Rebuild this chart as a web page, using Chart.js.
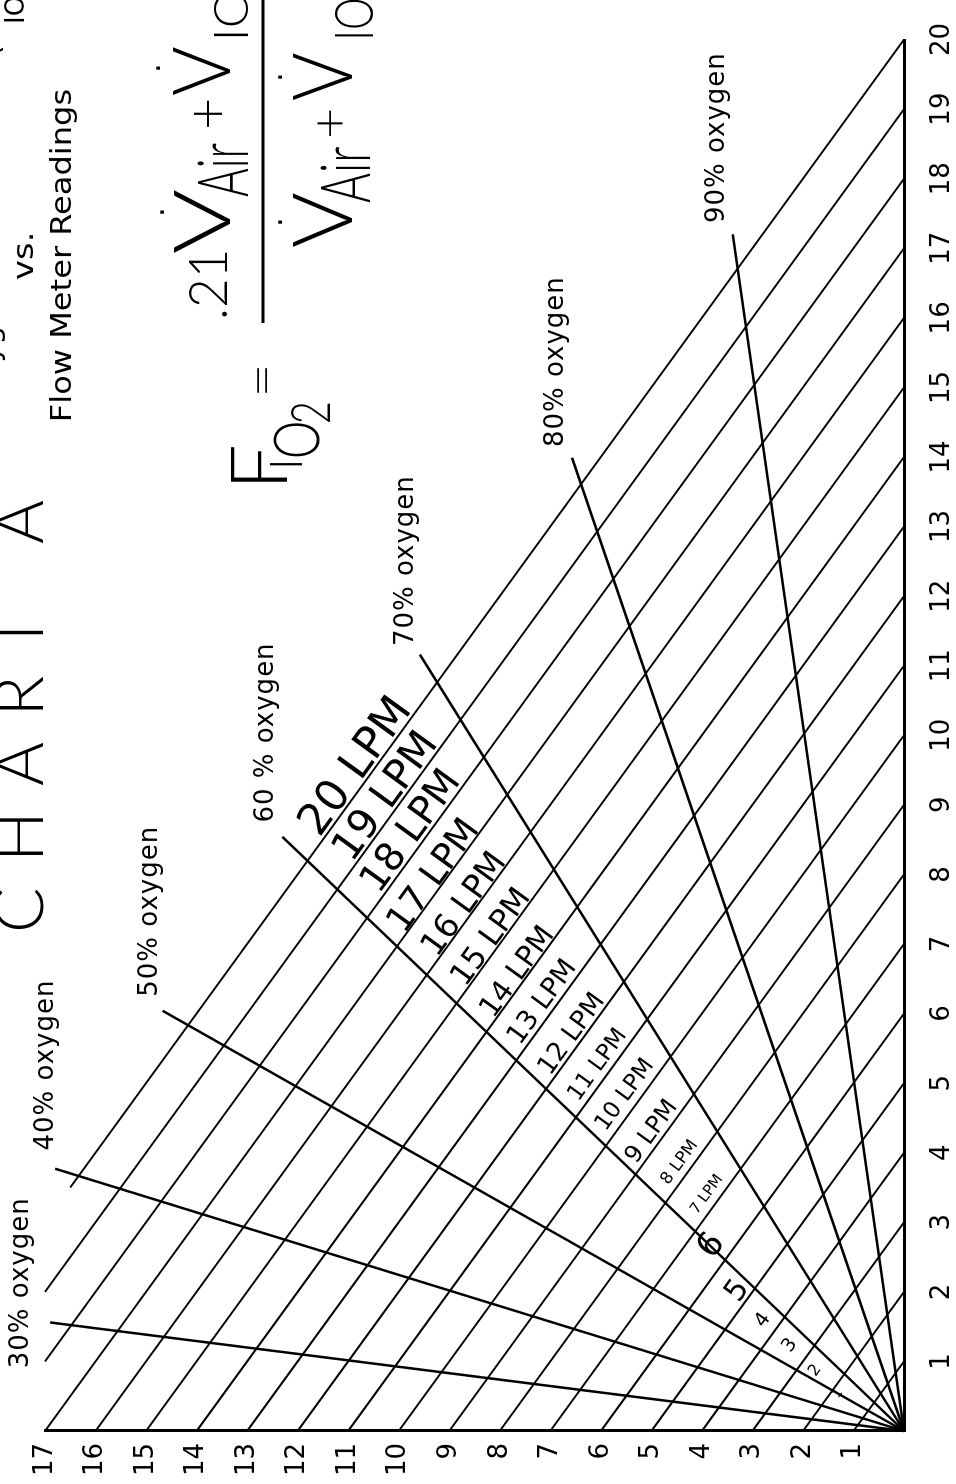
<!DOCTYPE html>
<html>
<head>
<meta charset="utf-8">
<title>Chart A</title>
<script src="https://cdn.jsdelivr.net/npm/chart.js@4.4.1/dist/chart.umd.min.js"></script>
<style>
  html, body { margin: 0; padding: 0; background: #fff; }
  body { width: 956px; height: 1484px; overflow: hidden; position: relative; }
  /* the chart is drawn upright and then turned on its side like the printed sheet */
  #wrap { position: absolute; left: 0; top: 0; width: 1484px; height: 956px;
          transform-origin: 0 0; transform: translate(0, 1484px) rotate(-90deg); }
</style>
</head>
<body>
<div id="wrap"><canvas id="chartA" width="1484" height="956"></canvas></div>
<script>
// flow meter ticks: oxygen along x, air along y (LPM)
const o2Ticks = [1, 2, 3, 4, 5, 6, 7, 8, 9, 10, 11, 12, 13, 14, 15, 16, 17, 18, 19, 20];
const airTicks = [1, 2, 3, 4, 5, 6, 7, 8, 9, 10, 11, 12, 13, 14, 15, 16, 17];

// total flow lines (air + oxygen = total), and the air reading where each one starts
const totalFlows = [1, 2, 3, 4, 5, 6, 7, 8, 9, 10, 11, 12, 13, 14, 15, 16, 17, 18, 19, 20];
const lineTopAir = [1, 2, 3, 4, 5, 6, 7, 8, 9, 10, 11, 12, 13, 14, 15, 16, 17, 17, 17, 16.5];

// oxygen concentration rays from the origin out to their labels
const oxygenLabels = ['30% oxygen', '40% oxygen', '50% oxygen', '60 % oxygen', '70% oxygen', '80% oxygen', '90% oxygen'];
const rayEndO2 = [1.56, 3.77, 6.04, 8.54, 11.16, 13.99, 17.2];
const rayEndAir = [16.9, 16.8, 14.67, 12.3, 9.58, 6.57, 3.39];
const oxygenLabelO2 = [2.13, 5.26, 7.47, 10.04, 12.51, 15.37, 18.59];
const oxygenLabelAir = [17.47, 16.97, 14.91, 12.63, 9.86, 6.89, 3.70];

// total flow labels, sitting just past their line
const flowLabels = ['20 LPM', '19 LPM', '18 LPM', '17 LPM', '16 LPM', '15 LPM', '14 LPM', '13 LPM', '12 LPM',
                    '11 LPM', '10 LPM', '9 LPM', '8 LPM', '7 LPM', '6', '5', '4', '3', '2', '1'];
const flowLabelO2 = [9.54, 9.11, 8.61, 7.97, 7.56, 7.09, 6.59, 6.16, 5.70, 5.26, 4.83, 4.30, 3.86, 3.40, 2.66, 2.01, 1.59, 1.23, 0.87, 0.54];
const flowLabelAir = [10.83, 10.24, 9.74, 9.29, 8.69, 8.16, 7.64, 7.15, 6.57, 6.06, 5.52, 4.99, 4.44, 3.90, 3.80, 3.29, 2.79, 2.26, 1.76, 1.31];
const flowLabelPx = [44, 41, 39, 36, 33, 31, 29, 27, 26, 23, 23, 24, 17, 15, 34, 30, 20, 19, 16, 13];

const line = (pts, w) => ({
  data: pts, showLine: true, borderColor: '#000', borderWidth: w,
  pointRadius: 0, tension: 0, clip: false
});

const datasets = [];
totalFlows.forEach((t, i) => {
  const a = lineTopAir[i];
  datasets.push(line([{ x: t - a, y: a }, { x: t, y: 0 }], 2));
});
rayEndO2.forEach((o, i) => {
  datasets.push(line([{ x: 0, y: 0 }, { x: o, y: rayEndAir[i] }], 2.5));
});

const LIGHT = '300';
const THIN_FONT = 'Lato, Inter, "DejaVu Sans", sans-serif';

// scale a piece of text so its ink fills the given box [left, right, top, bottom]
function fitText(ctx, text, box, family, weight) {
  const [u0, u1, v0, v1] = box;
  ctx.letterSpacing = '0px';
  ctx.textAlign = 'left';
  ctx.textBaseline = 'alphabetic';
  ctx.font = `${weight} 100px ${family}`;
  let m = ctx.measureText(text);
  const size = 100 * (v1 - v0) / (m.actualBoundingBoxAscent + m.actualBoundingBoxDescent);
  ctx.font = `${weight} ${size}px ${family}`;
  m = ctx.measureText(text);
  const sx = u1 == null ? 1 : (u1 - u0) / (m.actualBoundingBoxLeft + m.actualBoundingBoxRight);
  ctx.save();
  ctx.translate(u0, v1 - m.actualBoundingBoxDescent);
  ctx.scale(sx, 1);
  ctx.fillText(text, m.actualBoundingBoxLeft, 0);
  ctx.restore();
}

const textLayer = {
  id: 'textLayer',
  afterDatasetsDraw(chart) {
    const { ctx, scales: { x, y } } = chart;
    ctx.save();
    ctx.fillStyle = '#000';
    ctx.strokeStyle = '#000';

    // oxygen % labels at the ends of the rays
    ctx.font = '26px "DejaVu Sans"';
    ctx.letterSpacing = '1px';
    ctx.textAlign = 'center';
    ctx.textBaseline = 'middle';
    oxygenLabels.forEach((t, i) => {
      ctx.fillText(t, x.getPixelForValue(oxygenLabelO2[i]), y.getPixelForValue(oxygenLabelAir[i]));
    });

    // LPM labels run along the total flow lines
    ctx.letterSpacing = '0px';
    const ang = Math.atan2(y.getPixelForValue(0) - y.getPixelForValue(1), x.getPixelForValue(1) - x.getPixelForValue(0));
    flowLabels.forEach((t, i) => {
      ctx.save();
      ctx.translate(x.getPixelForValue(flowLabelO2[i]), y.getPixelForValue(flowLabelAir[i]));
      ctx.rotate(ang);
      ctx.font = `${flowLabelPx[i]}px "DejaVu Sans"`;
      ctx.fillText(t, 0, 0);
      ctx.restore();
    });

    // title block
    ctx.textAlign = 'left';
    ctx.textBaseline = 'alphabetic';
    ctx.font = `${LIGHT} 100px ${THIN_FONT}`;
    let m = ctx.measureText('CHART A');
    const titlePx = 100 * 49 / m.actualBoundingBoxAscent;
    ctx.font = `${LIGHT} ${titlePx}px ${THIN_FONT}`;
    m = ctx.measureText('CHART A');
    const inkW = m.actualBoundingBoxLeft + m.actualBoundingBoxRight;
    ctx.letterSpacing = ((430 - inkW) / 6) + 'px';
    ctx.fillText('CHART A', 554 + m.actualBoundingBoxLeft, 43);

    ctx.letterSpacing = '0px';
    ctx.font = '30px "DejaVu Sans"';
    const lead = 'Oxygen Concentration ';
    const leadX = 1427 - ctx.measureText(lead).width;
    ctx.fillText(lead + '(F', leadX, -1);
    const subX = leadX + ctx.measureText(lead + '(F').width + 4;
    ctx.font = '26px "DejaVu Sans"';
    ctx.fillText('IO2)', subX, 24);

    fitText(ctx, 'vs.', [1204, 1249, 17, 33], '"DejaVu Sans"', '400');
    fitText(ctx, 'Flow Meter Readings', [1064, 1394, 49, 77], '"DejaVu Sans"', '400');

    // F_IO2 = (.21 V_Air + V_O2) / (V_Air + V_O2)
    const pieces = [
      ['F', [1002, 1037, 230, 287]],
      ['I', [1018, null, 270, 302]],
      ['O', [1027, 1061, 273, 320]],
      ['2', [1062, 1081, 290, 330]],
      ['=', [1091, 1116, 257, 267]],
      ['.21', [1167, 1232, 188, 227]],
      ['V', [1231, 1294, 173, 230]],
      ['Air', [1287, 1341, 197, 248]],
      ['+', [1357, 1384, 193, 222]],
      ['V', [1389, 1437, 172, 230]],
      ['IO', [1447, 1492, 213, 248]],
      ['V', [1237, 1291, 293, 352]],
      ['Air', [1281, 1337, 320, 370]],
      ['+', [1347, 1374, 317, 343]],
      ['V', [1384, 1431, 293, 352]],
      ['IO2', [1447, 1508, 333, 373]]
    ];
    pieces.forEach(([t, box]) => fitText(ctx, t, box, THIN_FONT, LIGHT));
    [[1272, 162], [1416, 158], [1262, 280], [1407, 280]].forEach(([u, v]) => {
      fitText(ctx, '.', [u - 2, u + 2, v - 2, v + 2], '"DejaVu Sans"', '400');
    });
    ctx.fillRect(1161, 261.5, 1484 - 1161, 3);

    ctx.restore();
  }
};

const tickFont = { family: 'DejaVu Sans', size: 26 };

new Chart(document.getElementById('chartA'), {
  type: 'scatter',
  data: { datasets },
  options: {
    responsive: false,
    devicePixelRatio: 1,
    animation: false,
    events: [],
    layout: { padding: { top: 45, right: 31, left: 0, bottom: 0 } },
    plugins: { legend: { display: false }, tooltip: { enabled: false } },
    scales: {
      x: {
        type: 'linear', position: 'bottom', min: 0, max: 20,
        grid: { display: false, drawTicks: false },
        border: { display: true, color: '#000', width: 3 },
        afterBuildTicks: s => { s.ticks = o2Ticks.map(v => ({ value: v })); },
        ticks: { color: '#000', font: tickFont, padding: 23, maxRotation: 0, autoSkip: false },
        afterFit: s => { s.height = 52; }
      },
      y: {
        type: 'linear', position: 'left', min: 0, max: 17,
        grid: { display: false, drawTicks: false },
        border: { display: true, color: '#000', width: 3 },
        afterBuildTicks: s => { s.ticks = airTicks.map(v => ({ value: v })); },
        ticks: { color: '#000', font: tickFont, padding: 12, autoSkip: false },
        afterFit: s => { s.width = 53; }
      }
    }
  },
  plugins: [textLayer]
});
</script>
</body>
</html>
